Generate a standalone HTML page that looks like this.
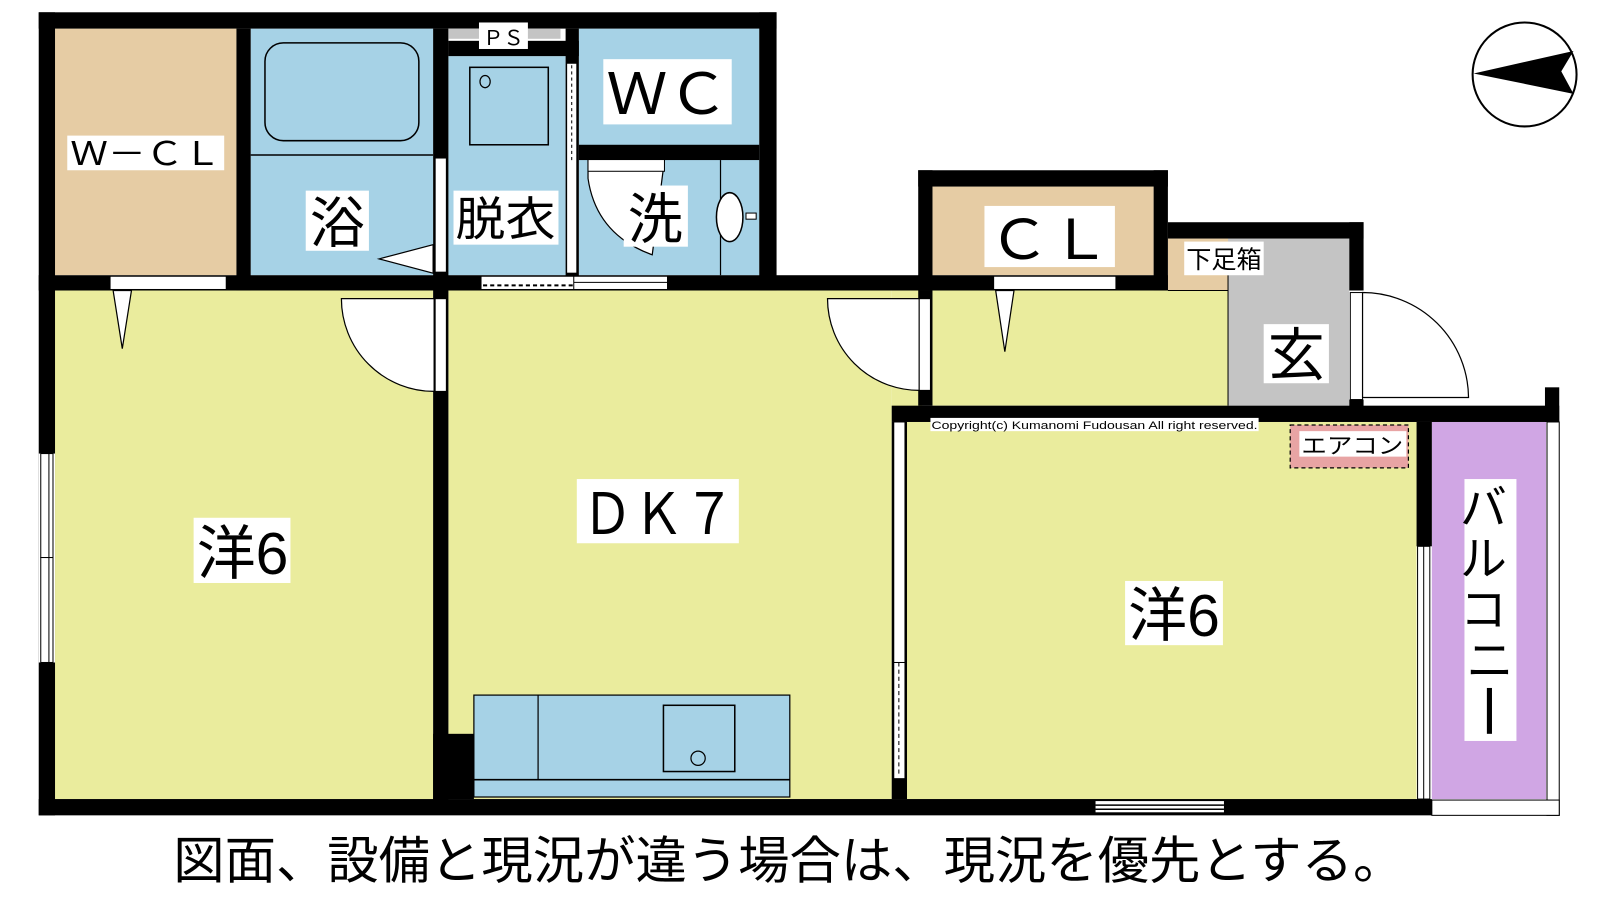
<!DOCTYPE html>
<html><head><meta charset="utf-8"><style>
html,body{margin:0;padding:0;background:#fff;}
svg{display:block;}
text{font-family:"Liberation Sans","Noto Sans CJK JP",sans-serif;fill:#000;}
</style></head><body>
<svg width="1600" height="900" viewBox="0 0 1570 883" xmlns="http://www.w3.org/2000/svg">
<rect x="54" y="28" width="178" height="242" fill="#e6cca4"/>
<rect x="246" y="28" width="179" height="242" fill="#a6d2e6"/>
<rect x="440" y="55" width="115" height="215" fill="#a6d2e6"/>
<rect x="568" y="28" width="177" height="242" fill="#a6d2e6"/>
<rect x="54" y="285" width="371" height="499" fill="#eaec9d"/>
<rect x="440" y="285" width="435" height="499" fill="#eaec9d"/>
<rect x="875" y="285" width="30" height="120" fill="#eaec9d"/>
<rect x="915" y="183" width="217" height="87" fill="#e6cca4"/>
<rect x="1146" y="234" width="59" height="51" fill="#e6cca4"/>
<rect x="1205" y="234" width="119" height="164" fill="#c4c4c4"/>
<rect x="915" y="285" width="290" height="113" fill="#eaec9d"/>
<rect x="890" y="414" width="500" height="370" fill="#eaec9d"/>
<rect x="1405" y="414" width="112" height="370" fill="#d0a6e4"/>
<rect x="260" y="42" width="151" height="96" rx="18" fill="none" stroke="#000" stroke-width="1.5"/>
<line x1="246" y1="152" x2="425" y2="152" stroke="#000" stroke-width="1.5"/>
<polygon points="372,254 425,240 425,268" fill="#fff" stroke="#000" stroke-width="1.2"/>
<rect x="461" y="66" width="77" height="76" fill="none" stroke="#000" stroke-width="1.5"/>
<ellipse cx="476" cy="80" rx="5" ry="6" fill="none" stroke="#000" stroke-width="1.2"/>
<path d="M577,157 L577,175 Q585,230 640,250 L652,157 Z" fill="#fff" stroke="#000" stroke-width="1.2"/>
<rect x="577" y="150" width="75" height="18" fill="#fff" stroke="#000" stroke-width="1"/>
<line x1="707" y1="157" x2="707" y2="270" stroke="#000" stroke-width="1.2"/>
<ellipse cx="716" cy="213" rx="13" ry="24" fill="#fff" stroke="#000" stroke-width="1.5"/>
<rect x="732" y="209" width="10" height="6" fill="#fff" stroke="#000" stroke-width="1"/>
<g fill="#000">
<rect x="38" y="12" width="724" height="16"/>
<rect x="38" y="12" width="16" height="788"/>
<rect x="232" y="28" width="14" height="257"/>
<rect x="425" y="28" width="15" height="757"/>
<rect x="440" y="40" width="128" height="15"/>
<rect x="555" y="28" width="13" height="247"/>
<rect x="568" y="142" width="177" height="15"/>
<rect x="745" y="12" width="17" height="273"/>
<rect x="38" y="270" width="877" height="15"/>
<rect x="901" y="270" width="245" height="15"/>
<rect x="901" y="167" width="245" height="16"/>
<rect x="901" y="167" width="14" height="118"/>
<rect x="1132" y="167" width="14" height="118"/>
<rect x="1146" y="218" width="192" height="16"/>
<rect x="1324" y="218" width="14" height="67"/>
<rect x="1324" y="392" width="14" height="10"/>
<rect x="901" y="285" width="14" height="113"/>
<rect x="875" y="398" width="655" height="16"/>
<rect x="1516" y="380" width="14" height="34"/>
<rect x="875" y="414" width="15" height="370"/>
<rect x="1390" y="414" width="15" height="122"/>
<rect x="38" y="784" width="1367" height="16"/>
<rect x="425" y="720" width="40" height="64"/>
</g>
<rect x="440" y="28" width="110" height="10" fill="#c4c4c4"/>
<rect x="470" y="22" width="48" height="26" fill="#fff"/>
<text x="494" y="44" font-size="20" text-anchor="middle" textLength="40" lengthAdjust="spacingAndGlyphs">ＰＳ</text>
<rect x="427" y="155" width="11" height="112" fill="#fff" stroke="#000" stroke-width="1"/>
<rect x="556" y="62" width="10" height="206" fill="#fff" stroke="#000" stroke-width="1"/>
<line x1="561" y1="64" x2="561" y2="160" stroke="#000" stroke-width="1" stroke-dasharray="3,3"/>
<rect x="108" y="271" width="114" height="13" fill="#fff" stroke="#000" stroke-width="1"/>
<polygon points="111,285 129,285 120,342" fill="#fff" stroke="#000" stroke-width="1.2"/>
<rect x="472" y="271" width="183" height="13" fill="#fff" stroke="#000" stroke-width="1"/>
<line x1="474" y1="280" x2="563" y2="280" stroke="#000" stroke-width="2" stroke-dasharray="4,3"/>
<line x1="563" y1="271" x2="563" y2="284" stroke="#000" stroke-width="1"/>
<line x1="563" y1="277" x2="655" y2="277" stroke="#000" stroke-width="1"/>
<path d="M426,293 L335,293 A91,91 0 0 0 426,384 Z" fill="#fff" stroke="#000" stroke-width="1.2"/>
<rect x="427" y="293" width="11" height="91" fill="#fff" stroke="#000" stroke-width="1"/>
<path d="M902,293 L812,293 A90,90 0 0 0 902,383 Z" fill="#fff" stroke="#000" stroke-width="1.2"/>
<rect x="902" y="293" width="11" height="90" fill="#fff" stroke="#000" stroke-width="1"/>
<rect x="975" y="271" width="120" height="13" fill="#fff" stroke="#000" stroke-width="1"/>
<polygon points="977,285 995,285 986,345" fill="#fff" stroke="#000" stroke-width="1.2"/>
<line x1="1205" y1="270" x2="1205" y2="398" stroke="#000" stroke-width="1"/>
<line x1="1146" y1="285" x2="1205" y2="285" stroke="#000" stroke-width="1"/>
<rect x="1325" y="287" width="12" height="105" fill="#fff" stroke="#000" stroke-width="1"/>
<path d="M1337,287 A104,104 0 0 1 1441,390 L1337,390 Z" fill="#fff" stroke="#000" stroke-width="1.2"/>
<rect x="38" y="445" width="16" height="205" fill="#fff"/>
<rect x="40" y="445" width="12" height="102" fill="none" stroke="#000" stroke-width="1"/>
<rect x="40" y="547" width="12" height="103" fill="none" stroke="#000" stroke-width="1"/>
<line x1="48" y1="445" x2="48" y2="650" stroke="#000" stroke-width="1"/>
<rect x="877" y="414" width="11" height="350" fill="#fff" stroke="#000" stroke-width="1"/>
<line x1="882" y1="650" x2="882" y2="760" stroke="#000" stroke-width="1" stroke-dasharray="4,3"/>
<line x1="877" y1="650" x2="888" y2="650" stroke="#000" stroke-width="1"/>
<rect x="1391" y="536" width="12" height="248" fill="#fff" stroke="#000" stroke-width="1"/>
<line x1="1397" y1="536" x2="1397" y2="784" stroke="#000" stroke-width="1"/>
<rect x="1518" y="414" width="12" height="386" fill="#fff" stroke="#000" stroke-width="1"/>
<rect x="1405" y="785" width="125" height="15" fill="#fff" stroke="#000" stroke-width="1"/>
<rect x="1075" y="786" width="126" height="11" fill="#fff"/>
<line x1="1075" y1="790" x2="1201" y2="790" stroke="#000" stroke-width="1.5"/>
<line x1="1075" y1="794" x2="1201" y2="794" stroke="#000" stroke-width="1.5"/>
<rect x="465" y="682" width="310" height="100" fill="#a6d2e6" stroke="#000" stroke-width="1.2"/>
<line x1="528" y1="682" x2="528" y2="765" stroke="#000" stroke-width="1.2"/>
<line x1="465" y1="765" x2="775" y2="765" stroke="#000" stroke-width="1.5"/>
<rect x="651" y="692" width="70" height="65" fill="none" stroke="#000" stroke-width="1.5"/>
<ellipse cx="685" cy="744" rx="7" ry="7" fill="none" stroke="#000" stroke-width="1.2"/>
<rect x="1266" y="417" width="116" height="42" fill="#e8a4a4" stroke="#000" stroke-width="1.2" stroke-dasharray="4,3"/>
<rect x="1275" y="423" width="105" height="25" fill="#fff"/>
<text x="1327" y="445" font-size="22" text-anchor="middle" textLength="100" lengthAdjust="spacingAndGlyphs">エアコン</text>
<rect x="913" y="410" width="322" height="13" fill="#fff"/>
<text x="914" y="421" font-size="11" textLength="320" lengthAdjust="spacingAndGlyphs">Copyright(c) Kumanomi Fudousan All right reserved.</text>
<rect x="66" y="133" width="154" height="34" fill="#fff"/>
<text x="143" y="162" font-size="32" text-anchor="middle" textLength="148" lengthAdjust="spacingAndGlyphs">Ｗ－ＣＬ</text>
<rect x="300" y="187" width="62" height="59" fill="#fff"/>
<text x="331" y="238" font-size="54" text-anchor="middle">浴</text>
<rect x="445" y="187" width="103" height="53" fill="#fff"/>
<text x="496" y="231" font-size="46" text-anchor="middle" textLength="98" lengthAdjust="spacingAndGlyphs">脱衣</text>
<rect x="592" y="58" width="126" height="64" fill="#fff"/>
<text x="655" y="112" font-size="56" text-anchor="middle" textLength="120" lengthAdjust="spacingAndGlyphs">ＷＣ</text>
<rect x="612" y="182" width="63" height="60" fill="#fff"/>
<text x="643" y="234" font-size="54" text-anchor="middle">洗</text>
<rect x="966" y="202" width="128" height="60" fill="#fff"/>
<text x="1030" y="254" font-size="54" text-anchor="middle" textLength="120" lengthAdjust="spacingAndGlyphs">ＣＬ</text>
<rect x="1162" y="237" width="78" height="33" fill="#fff"/>
<text x="1201" y="263" font-size="24" text-anchor="middle" textLength="74" lengthAdjust="spacingAndGlyphs">下足箱</text>
<rect x="1240" y="318" width="64" height="58" fill="#fff"/>
<text x="1272" y="368" font-size="56" text-anchor="middle">玄</text>
<rect x="566" y="470" width="159" height="63" fill="#fff"/>
<text x="646" y="524" font-size="56" text-anchor="middle" textLength="150" lengthAdjust="spacingAndGlyphs">ＤＫ７</text>
<rect x="190" y="508" width="95" height="64" fill="#fff"/>
<text x="238" y="563" font-size="58" text-anchor="middle" textLength="90" lengthAdjust="spacingAndGlyphs">洋6</text>
<rect x="1104" y="570" width="96" height="63" fill="#fff"/>
<text x="1152" y="624" font-size="58" text-anchor="middle" textLength="90" lengthAdjust="spacingAndGlyphs">洋6</text>
<rect x="1437" y="470" width="51" height="257" fill="#fff"/>
<text font-size="46" text-anchor="middle">
<tspan x="1462" y="514">バ</tspan>
<tspan x="1462" y="564">ル</tspan>
<tspan x="1462" y="614">コ</tspan>
<tspan x="1462" y="664">ニ</tspan>
</text>
<rect x="1459" y="675" width="5" height="45" fill="#000"/>
<circle cx="1496" cy="73" r="51" fill="#fff" stroke="#000" stroke-width="2"/>
<polygon points="1446,72 1544,50 1532,70 1544,92" fill="#000"/>
<text x="170" y="862" font-size="50" textLength="1208" lengthAdjust="spacingAndGlyphs">図面、設備と現況が違う場合は、現況を優先とする。</text>
</svg>
</body></html>
